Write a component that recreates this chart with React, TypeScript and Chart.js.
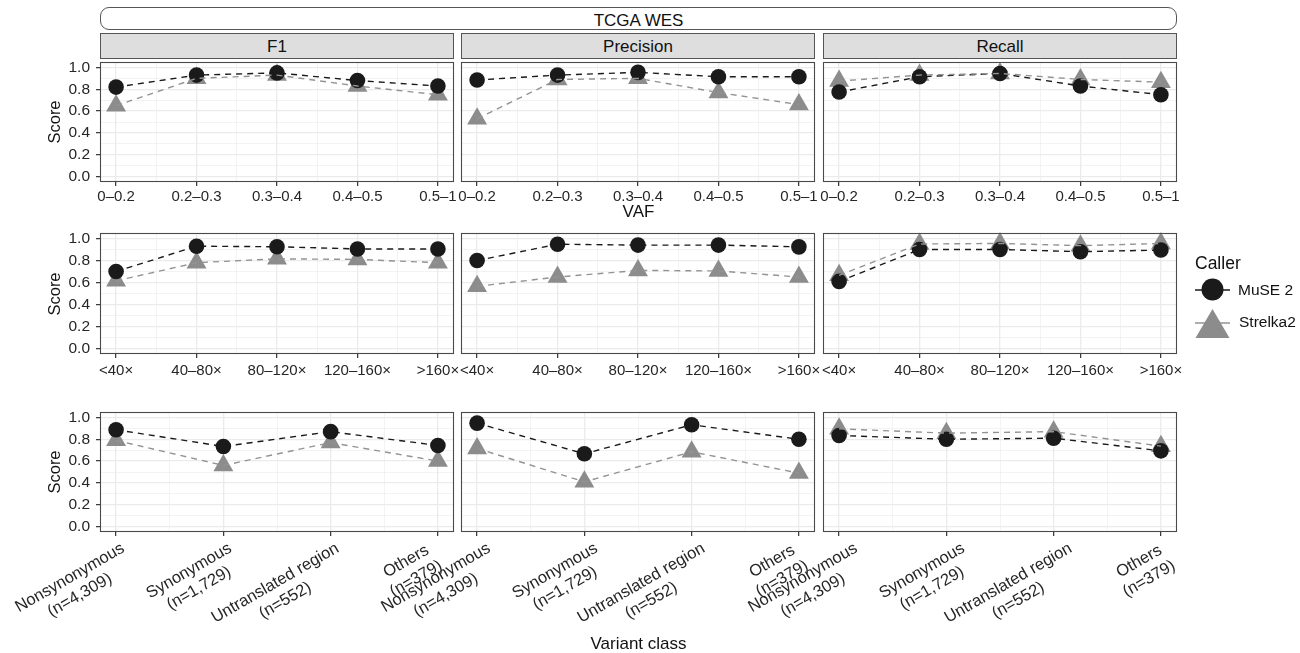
import React, { useEffect, useRef } from 'react';
import { Chart, registerables } from 'chart.js';

Chart.register(...registerables);

const FONT = '"Liberation Sans", Arimo, Arial, Helvetica, sans-serif';

// ---------------- data ----------------
const VAF_BINS = ['0–0.2', '0.2–0.3', '0.3–0.4', '0.4–0.5', '0.5–1'];
const DEPTH_BINS = ['<40×', '40–80×', '80–120×', '120–160×', '>160×'];
const VARIANT_CLASSES = [
  ['Nonsynonymous', '(n=4,309)'],
  ['Synonymous', '(n=1,729)'],
  ['Untranslated region', '(n=552)'],
  ['Others', '(n=379)'],
];
const METRICS = ['F1', 'Precision', 'Recall'];
const CALLERS = ['MuSE 2', 'Strelka2'];
const Y_TICKS = [0, 0.2, 0.4, 0.6, 0.8, 1.0];
const Y_MINOR = [0.1, 0.3, 0.5, 0.7, 0.9];

// VAF row
const VAF_F1_MUSE = [0.82, 0.93, 0.95, 0.88, 0.83];
const VAF_F1_STRELKA = [0.65, 0.9, 0.93, 0.83, 0.75];
const VAF_PREC_MUSE = [0.885, 0.93, 0.955, 0.915, 0.915];
const VAF_PREC_STRELKA = [0.53, 0.89, 0.9, 0.77, 0.66];
const VAF_REC_MUSE = [0.775, 0.915, 0.945, 0.83, 0.75];
const VAF_REC_STRELKA = [0.875, 0.93, 0.945, 0.89, 0.865];

// Depth row
const DEPTH_F1_MUSE = [0.7, 0.93, 0.925, 0.905, 0.905];
const DEPTH_F1_STRELKA = [0.615, 0.78, 0.815, 0.81, 0.78];
const DEPTH_PREC_MUSE = [0.8, 0.948, 0.94, 0.94, 0.924];
const DEPTH_PREC_STRELKA = [0.565, 0.65, 0.71, 0.705, 0.65];
const DEPTH_REC_MUSE = [0.61, 0.9, 0.9, 0.88, 0.895];
const DEPTH_REC_STRELKA = [0.665, 0.95, 0.955, 0.935, 0.955];

// Variant class row
const VC_F1_MUSE = [0.887, 0.734, 0.87, 0.743];
const VC_F1_STRELKA = [0.79, 0.56, 0.77, 0.6];
const VC_PREC_MUSE = [0.948, 0.667, 0.933, 0.8];
const VC_PREC_STRELKA = [0.716, 0.41, 0.685, 0.49];
const VC_REC_MUSE = [0.835, 0.8, 0.81, 0.694];
const VC_REC_STRELKA = [0.896, 0.856, 0.87, 0.737];

const ROW_CATS: string[][] = [VAF_BINS, DEPTH_BINS, VARIANT_CLASSES.map((l) => l.join(' '))];
const DATA: number[][][][] = [
  [
    [VAF_F1_MUSE, VAF_F1_STRELKA],
    [VAF_PREC_MUSE, VAF_PREC_STRELKA],
    [VAF_REC_MUSE, VAF_REC_STRELKA],
  ],
  [
    [DEPTH_F1_MUSE, DEPTH_F1_STRELKA],
    [DEPTH_PREC_MUSE, DEPTH_PREC_STRELKA],
    [DEPTH_REC_MUSE, DEPTH_REC_STRELKA],
  ],
  [
    [VC_F1_MUSE, VC_F1_STRELKA],
    [VC_PREC_MUSE, VC_PREC_STRELKA],
    [VC_REC_MUSE, VC_REC_STRELKA],
  ],
];

// ---------------- style / layout ----------------
const MUSE_COLOR = '#1a1a1a';
const STRELKA_COLOR = '#8c8c8c';
const STRELKA_LINE = '#939393';
const GRID = '#ebebeb';
const BORDER = '#4a4a4a';
const TICK_TEXT = '#262626';
const TITLE_TEXT = '#111111';
const TICK_SIZE = 15;

const COL_LEFT = [100, 461, 823];
const PANEL_W = 354;
const ROW_TOP = [62, 233, 412];
const ROW_H = [120, 121, 120];
const X_EXPAND = [0.2, 0.2, 0.15];
const X_LABEL_PAD = [1.5, 3.5, 0];
const ROT_DX = [2, 7, 12];
const ROT_NUDGE = [0, 0, 0, -14];
const TOTAL_H = 653;

function geometry(row: number, col: number) {
  const yW = col === 0 ? 60 : 0;
  const padL = col === 0 ? 40 : row === 2 ? 125 : 30;
  const padR = 30;
  const padT = 12;
  const xAxisH = row === 2 ? 4 : 30;
  const left = COL_LEFT[col] - yW - padL;
  const top = ROW_TOP[row] - padT;
  const width = padL + yW + PANEL_W + padR;
  const padB = row === 2 ? TOTAL_H - (ROW_TOP[row] + ROW_H[row]) - xAxisH : 0;
  const height = padT + ROW_H[row] + xAxisH + padB;
  return { yW, padL, padR, padT, padB, xAxisH, left, top, width, height };
}

const borderPlugin = {
  id: 'panelBorder',
  afterDraw(chart: any) {
    const { ctx, chartArea: a } = chart;
    ctx.save();
    ctx.strokeStyle = BORDER;
    ctx.lineWidth = 1.1;
    ctx.strokeRect(a.left + 0.5, a.top + 0.5, a.right - a.left - 1, a.bottom - a.top - 1);
    ctx.restore();
  },
};

const makeRotLabels = (col: number) => ({
  id: 'rotLabels',
  afterDraw(chart: any) {
    const { ctx, chartArea } = chart;
    const xs = chart.scales.x;
    ctx.save();
    ctx.font = `16.5px ${FONT}`;
    ctx.fillStyle = TICK_TEXT;
    ctx.textAlign = 'center';
    ctx.textBaseline = 'middle';
    VARIANT_CLASSES.forEach((lines, i) => {
      const px = xs.getPixelForValue(i);
      const w = Math.max(...lines.map((l) => ctx.measureText(l).width));
      ctx.save();
      ctx.translate(px + ROT_DX[col] + ROT_NUDGE[i], chartArea.bottom + 6.5);
      ctx.rotate(-Math.PI / 6);
      lines.forEach((l, j) => ctx.fillText(l, -w / 2, (j + 0.5) * 20));
      ctx.restore();
    });
    ctx.restore();
  },
});

function Panel({ row, col }: { row: number; col: number }) {
  const ref = useRef<HTMLCanvasElement>(null);
  const g = geometry(row, col);
  useEffect(() => {
    const canvas = ref.current;
    if (!canvas) return;
    const cats = ROW_CATS[row];
    const n = cats.length;
    const ext = X_EXPAND[row];
    const [muse, strelka] = DATA[row][col];
    const xMajor = cats.map((_, i) => i);
    const xMinor = cats.slice(1).map((_, i) => i + 0.5);
    const xAll = [...xMajor, ...xMinor].sort((a, b) => a - b);
    const yAll = [...Y_TICKS, ...Y_MINOR].sort((a, b) => a - b);
    const isInt = (v: number) => Math.abs(v - Math.round(v)) < 1e-6;
    const isMajorY = (v: number) => Y_TICKS.some((t) => Math.abs(t - v) < 1e-6);
    const pts = (arr: number[]) => arr.map((y, i) => ({ x: i, y }));
    const rotated = row === 2;
    const lineDs = (label: string, arr: number[], color: string) => ({
      label,
      data: pts(arr),
      showLine: true,
      borderColor: color,
      borderWidth: 1.4,
      borderDash: [6, 5],
      pointRadius: 0,
      pointHoverRadius: 0,
      fill: false,
      tension: 0,
      clip: false,
    });
    const chart = new Chart(canvas, {
      type: 'line',
      data: {
        datasets: [
          lineDs(CALLERS[1] + ' line', strelka, STRELKA_LINE),
          lineDs(CALLERS[0] + ' line', muse, MUSE_COLOR),
          {
            label: CALLERS[0],
            data: pts(muse),
            showLine: false,
            pointStyle: 'circle',
            pointRadius: 7.8,
            pointHoverRadius: 7.8,
            pointBackgroundColor: MUSE_COLOR,
            pointBorderColor: MUSE_COLOR,
            pointBorderWidth: 0,
            clip: false,
          },
          {
            label: CALLERS[1],
            data: pts(strelka),
            showLine: false,
            pointStyle: 'triangle',
            pointRadius: 11.5,
            pointHoverRadius: 11.5,
            pointBackgroundColor: STRELKA_COLOR,
            pointBorderColor: STRELKA_COLOR,
            pointBorderWidth: 0,
            clip: false,
          },
        ] as any,
      },
      options: {
        responsive: false,
        maintainAspectRatio: false,
        animation: false,
        devicePixelRatio: 1,
        events: [],
        layout: { padding: { left: g.padL, right: g.padR, top: g.padT, bottom: g.padB } },
        plugins: { legend: { display: false }, tooltip: { enabled: false }, title: { display: false } },
        scales: {
          x: {
            type: 'linear',
            min: -ext,
            max: n - 1 + ext,
            afterBuildTicks: (s: any) => {
              s.ticks = xAll.map((v) => ({ value: v }));
            },
            afterFit: (s: any) => {
              s.height = g.xAxisH;
              s.paddingLeft = 0;
              s.paddingRight = 0;
            },
            border: { display: false },
            grid: {
              color: GRID,
              lineWidth: (c: any) => (c.tick && isInt(c.tick.value) ? 1.3 : 0.6),
              drawTicks: true,
              tickLength: 4,
              tickWidth: 1.2,
              tickColor: (c: any) => (c.tick && isInt(c.tick.value) ? '#333333' : 'rgba(0,0,0,0)'),
            },
            ticks: {
              autoSkip: false,
              maxRotation: 0,
              minRotation: 0,
              padding: X_LABEL_PAD[row],
              color: TICK_TEXT,
              font: { family: FONT, size: TICK_SIZE },
              callback: (v: any) => {
                const val = Number(v);
                if (rotated || !isInt(val)) return '';
                return cats[Math.round(val)];
              },
            },
          },
          y: {
            type: 'linear',
            min: -0.05,
            max: 1.05,
            afterBuildTicks: (s: any) => {
              s.ticks = yAll.map((v) => ({ value: v }));
            },
            afterFit: (s: any) => {
              s.width = g.yW;
              s.paddingTop = 0;
              s.paddingBottom = 0;
            },
            border: { display: false },
            grid: {
              color: GRID,
              lineWidth: (c: any) => (c.tick && isMajorY(c.tick.value) ? 1.3 : 0.6),
              drawTicks: col === 0,
              tickLength: 4,
              tickWidth: 1.2,
              tickColor: (c: any) => (c.tick && isMajorY(c.tick.value) ? '#333333' : 'rgba(0,0,0,0)'),
            },
            ticks: {
              display: col === 0,
              autoSkip: false,
              padding: 6,
              color: TICK_TEXT,
              font: { family: FONT, size: 15.5 },
              callback: (v: any) => (isMajorY(Number(v)) ? Number(v).toFixed(1) : ''),
            },
          },
        },
      } as any,
      plugins: rotated ? [borderPlugin, makeRotLabels(col)] : [borderPlugin],
    });
    return () => chart.destroy();
  }, []);
  return (
    <canvas
      ref={ref}
      width={g.width}
      height={g.height}
      style={{ position: 'absolute', left: g.left, top: g.top, width: g.width, height: g.height }}
    />
  );
}

function Txt({
  x,
  y,
  size,
  children,
  rotate = 0,
  anchor = 'center',
  color = TITLE_TEXT,
}: {
  x: number;
  y: number;
  size: number;
  children: React.ReactNode;
  rotate?: number;
  anchor?: 'center' | 'left';
  color?: string;
}) {
  const tx = anchor === 'center' ? '-50%' : '0';
  return (
    <div
      style={{
        position: 'absolute',
        left: x,
        top: y,
        transform: `translate(${tx}, -50%) rotate(${rotate}deg)`,
        fontSize: size,
        lineHeight: 1,
        fontFamily: FONT,
        color,
        whiteSpace: 'nowrap',
      }}
    >
      {children}
    </div>
  );
}

export default function App() {
  const rows = [0, 1, 2];
  const cols = [0, 1, 2];
  const centerX = (COL_LEFT[0] + COL_LEFT[2] + PANEL_W) / 2;
  return (
    <div
      style={{
        position: 'fixed',
        left: 0,
        top: 0,
        width: 1300,
        height: 653,
        background: '#ffffff',
        overflow: 'hidden',
        fontFamily: FONT,
      }}
    >
      {/* outer strip */}
      <div
        style={{
          position: 'absolute',
          left: COL_LEFT[0],
          top: 7,
          width: COL_LEFT[2] + PANEL_W - COL_LEFT[0],
          height: 23,
          border: '1px solid #555555',
          borderRadius: 9,
          boxSizing: 'border-box',
          background: '#ffffff',
        }}
      />
      <Txt x={centerX} y={20} size={17}>
        TCGA WES
      </Txt>
      {/* facet strips */}
      {cols.map((c) => (
        <div
          key={'strip' + c}
          style={{
            position: 'absolute',
            left: COL_LEFT[c],
            top: 33,
            width: PANEL_W,
            height: 26,
            background: '#dedede',
            border: '1px solid #555555',
            boxSizing: 'border-box',
          }}
        />
      ))}
      {cols.map((c) => (
        <Txt key={'stript' + c} x={COL_LEFT[c] + PANEL_W / 2} y={46} size={17}>
          {METRICS[c]}
        </Txt>
      ))}
      {/* panels */}
      {rows.map((r) => cols.map((c) => <Panel key={`p${r}${c}`} row={r} col={c} />))}
      {/* axis titles */}
      {rows.map((r) => (
        <Txt key={'score' + r} x={54} y={ROW_TOP[r] + ROW_H[r] / 2} size={16.5} rotate={-90}>
          Score
        </Txt>
      ))}
      <Txt x={centerX} y={211} size={17}>
        VAF
      </Txt>
      <Txt x={centerX} y={643} size={17}>
        Variant class
      </Txt>
      {/* legend */}
      <Txt x={1195} y={263.5} size={17.5} anchor="left">
        Caller
      </Txt>
      <svg
        width={1300}
        height={653}
        style={{ position: 'absolute', left: 0, top: 0, pointerEvents: 'none' }}
      >
        <line x1={1195} x2={1230} y1={290} y2={290} stroke={MUSE_COLOR} strokeWidth={1.3} />
        <circle cx={1212.5} cy={289.5} r={11} fill={MUSE_COLOR} />
        <line x1={1195} x2={1230} y1={323} y2={323} stroke={STRELKA_LINE} strokeWidth={1.3} />
        <polygon points="1212.5,309 1229.5,338 1195.5,338" fill={STRELKA_COLOR} />
      </svg>
      <Txt x={1238} y={290} size={15.5} anchor="left">
        {CALLERS[0]}
      </Txt>
      <Txt x={1239} y={322} size={15.5} anchor="left">
        {CALLERS[1]}
      </Txt>
    </div>
  );
}
